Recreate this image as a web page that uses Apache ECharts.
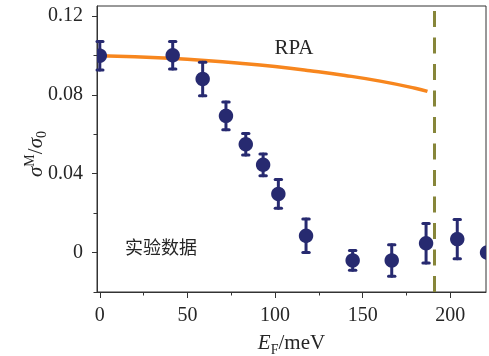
<!DOCTYPE html>
<html><head><meta charset="utf-8">
<script src="https://cdn.jsdelivr.net/npm/echarts@6/dist/echarts.min.js"></script>
<style>html,body{margin:0;padding:0;background:#fff}#c{width:489px;height:356px}</style>
</head><body><div id="c"></div>
<script>
// Experimental data (E_F in meV, sigma^M/sigma_0 and error bars)
const energyMeV  = [0, 41.6, 58.7, 72, 83.3, 93.2, 101.9, 117.7, 144.3, 166.6, 186.2, 204, 221];
const sigmaRatio = [0.0998, 0.1000, 0.0880, 0.0693, 0.0549, 0.0445, 0.0297, 0.0085, -0.0040, -0.0040, 0.0047, 0.0068, 0.0000];
const sigmaError = [0.0072, 0.0070, 0.0085, 0.0070, 0.0055, 0.0055, 0.0073, 0.0085, 0.0050, 0.0080, 0.0100, 0.0100, 0.0070];
// RPA curve
const rpaEnergy = [0, 20, 40, 60, 80, 100, 120, 140, 160, 180, 187];
const rpaSigma  = [0.0998, 0.0993, 0.0985, 0.0974, 0.0960, 0.0943, 0.0922, 0.0898, 0.0869, 0.0833, 0.0817];
// vertical dashed marker
const fermiLine = 191;
// ticks
const xMajorTicks = [0, 50, 100, 150, 200];
const xMinorTicks = [25, 75, 125, 175];
const yMajorTicks = [0, 0.04, 0.08, 0.12];
const yMinorTicks = [-0.02, 0.02, 0.06, 0.10];

const navy = '#272a70', orange = '#f7861e', olive = '#87863a', ink = '#262626', axisC = '#333';
const serif = '"Liberation Serif", "DejaVu Serif", serif';

const chart = echarts.init(document.getElementById('c'), null, {renderer: 'canvas'});
const xBase = {type: 'value', min: -1.6, max: 220.4, gridIndex: 0, position: 'bottom', splitLine: {show: false}};
const yBase = {type: 'value', min: -0.02, max: 0.125, gridIndex: 0, position: 'left', splitLine: {show: false}};

chart.setOption({
  animation: false,
  backgroundColor: '#fff',
  grid: {left: 97, top: 6, right: 3, bottom: 64, containLabel: false, outerBoundsMode: 'none',
    show: true, borderColor: axisC, borderWidth: 1, backgroundColor: 'transparent'},
  xAxis: [
    Object.assign({}, xBase, {
      axisLine: {show: true, onZero: false, lineStyle: {color: axisC, width: 1}},
      axisTick: {show: true, customValues: xMajorTicks, length: 6, lineStyle: {color: axisC, width: 1}},
      axisLabel: {show: true, customValues: xMajorTicks, margin: 14, fontSize: 20, fontFamily: serif, color: ink},
      name: '{i|E}{s|F}{n|/meV}',
      nameLocation: 'middle', nameGap: 37,
      nameTextStyle: {
        fontSize: 21, fontFamily: serif, color: ink, lineHeight: 26,
        rich: {
          i: {fontStyle: 'italic', fontSize: 21, fontFamily: serif, color: ink, lineHeight: 26},
          s: {fontSize: 14, fontFamily: serif, color: ink, verticalAlign: 'bottom', lineHeight: 15},
          n: {fontSize: 21, fontFamily: serif, color: ink, lineHeight: 26}
        }
      }
    }),
    Object.assign({}, xBase, {
      axisLine: {show: false, onZero: false},
      axisTick: {show: true, customValues: xMinorTicks, length: 3.5, lineStyle: {color: axisC, width: 1}},
      axisLabel: {show: false}
    })
  ],
  yAxis: [
    Object.assign({}, yBase, {
      axisLine: {show: true, onZero: false, lineStyle: {color: axisC, width: 1}},
      axisTick: {show: true, customValues: yMajorTicks, length: 5, lineStyle: {color: axisC, width: 1}},
      axisLabel: {show: true, customValues: yMajorTicks, margin: 14, fontSize: 20, fontFamily: serif, color: ink,
        formatter: v => (v === 0 ? '0' : v.toFixed(2))},
      name: '{i|σ}{p|M}{n|/}{i|σ}{s|0}',
      nameLocation: 'middle', nameRotate: 90, nameGap: 48, nameMoveOverlap: false,
      nameTextStyle: {
        fontSize: 21, fontFamily: serif, color: ink, lineHeight: 26, padding: [0, 10, 0, 0],
        rich: {
          i: {fontStyle: 'italic', fontSize: 21, fontFamily: serif, color: ink, lineHeight: 26},
          p: {fontSize: 14, fontFamily: serif, color: ink, verticalAlign: 'top', lineHeight: 15},
          s: {fontSize: 14, fontFamily: serif, color: ink, verticalAlign: 'bottom', lineHeight: 15},
          n: {fontSize: 21, fontFamily: serif, color: ink, lineHeight: 26}
        }
      }
    }),
    Object.assign({}, yBase, {
      axisLine: {show: false, onZero: false},
      axisTick: {show: true, customValues: yMinorTicks, length: 3.5, lineStyle: {color: axisC, width: 1}},
      axisLabel: {show: false}
    })
  ],
  series: [
    {
      type: 'line', name: 'RPA', xAxisIndex: 0, yAxisIndex: 0,
      data: rpaEnergy.map((x, i) => [x, rpaSigma[i]]),
      smooth: true, showSymbol: false, z: 3,
      lineStyle: {color: orange, width: 3.5},
      markLine: {
        silent: true, symbol: ['none', 'none'], label: {show: false},
        lineStyle: {color: olive, width: 3, type: [16, 10.5]},
        data: [{xAxis: fermiLine}]
      }
    },
    {
      type: 'custom', name: 'exp', xAxisIndex: 0, yAxisIndex: 0, clip: false, z: 4,
      data: energyMeV.map((x, i) => [x, sigmaRatio[i], sigmaError[i]]),
      renderItem: function (params, api) {
        const cs = params.coordSys;
        const xmin = cs.x, xmax = cs.x + cs.width;
        const x = api.value(0), y = api.value(1), e = api.value(2);
        const c = api.coord([x, y]);
        const t = api.coord([x, y + e]);
        const b = api.coord([x, y - e]);
        const cap = 3.2, r = 7.2;
        const st = {stroke: navy, lineWidth: 3, lineCap: 'round'};
        const children = [];
        if (c[0] >= xmin && c[0] <= xmax) {
          const l = Math.max(xmin, c[0] - cap), rr = Math.min(xmax, c[0] + cap);
          children.push({type: 'line', shape: {x1: c[0], y1: t[1], x2: c[0], y2: b[1]}, style: st});
          children.push({type: 'line', shape: {x1: l, y1: t[1], x2: rr, y2: t[1]}, style: st});
          children.push({type: 'line', shape: {x1: l, y1: b[1], x2: rr, y2: b[1]}, style: st});
        }
        // circle clipped to the plot area
        const pts = [];
        for (let k = 0; k < 72; k++) {
          const a = k / 72 * Math.PI * 2;
          let px = c[0] + r * Math.cos(a);
          px = Math.min(xmax, Math.max(xmin, px));
          pts.push([px, c[1] + r * Math.sin(a)]);
        }
        children.push({type: 'polygon', shape: {points: pts}, style: {fill: navy}});
        return {type: 'group', children: children};
      }
    }
  ],
  graphic: [
    {type: 'text', x: 294, y: 48, style: {text: 'RPA', fontSize: 21, fontFamily: serif, fill: ink,
      align: 'center', verticalAlign: 'middle', textAlign: 'center', textVerticalAlign: 'middle'}},
    {type: 'text', x: 161, y: 247, style: {text: '实验数据', fontSize: 18, fontFamily: '"Noto Sans CJK SC"', fill: ink,
      align: 'center', verticalAlign: 'middle', textAlign: 'center', textVerticalAlign: 'middle'}}
  ]
});
</script>
</body></html>
